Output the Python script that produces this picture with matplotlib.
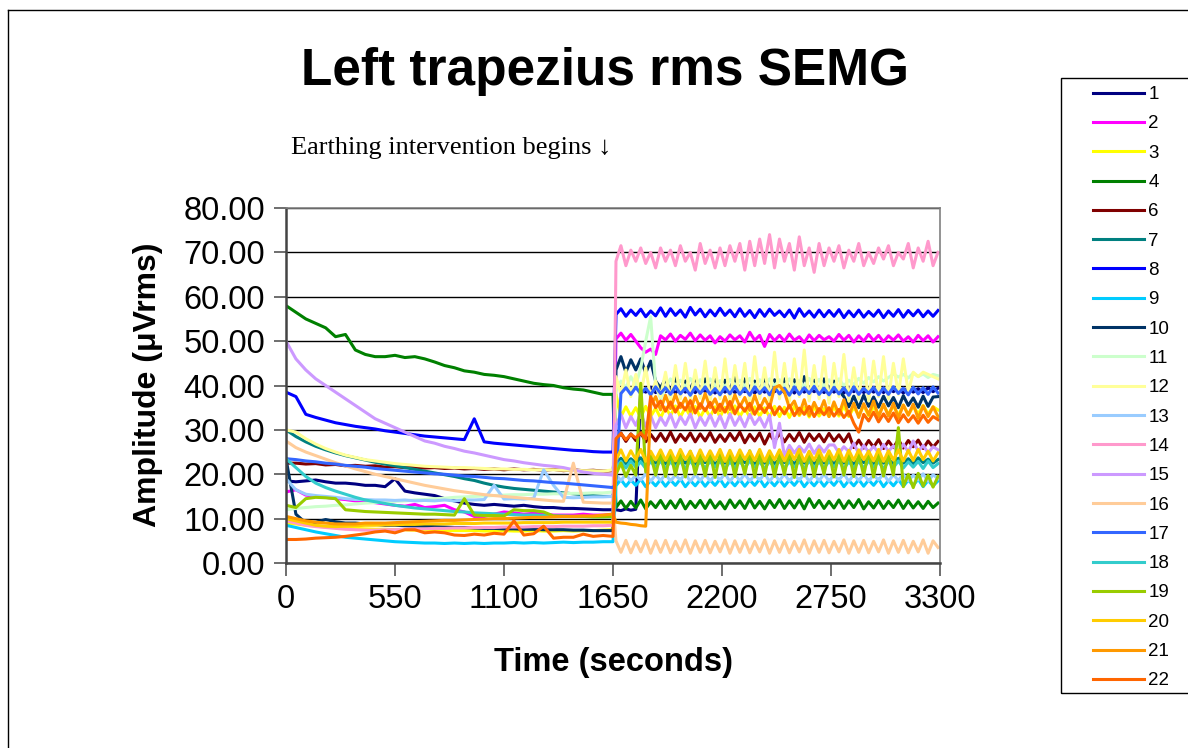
import numpy as np
import matplotlib
matplotlib.use('Agg')
import matplotlib.pyplot as plt
from matplotlib.lines import Line2D

plt.rcParams['font.family'] = ['Liberation Sans', 'DejaVu Sans']

# time axis (seconds): before and after the earthing intervention
T_PRE = np.arange(0, 1651, 50)
T_POST = np.arange(1665, 3300, 25)

labels = ['1', '2', '3', '4', '6', '7', '8', '9', '10', '11', '12',
          '13', '14', '15', '16', '17', '18', '19', '20', '21', '22']
colors = ['#000080', '#FF00FF', '#FFFF00', '#008000', '#800000', '#008080',
          '#0000FF', '#00CCFF', '#003366', '#CCFFCC', '#FFFF99', '#99CCFF',
          '#FF99CC', '#CC99FF', '#FFCC99', '#3366FF', '#33CCCC', '#99CC00',
          '#FFCC00', '#FF9900', '#FF6600']

s1_pre = [18.5, 18.3, 18.5, 18.7, 18.3, 18.0, 18.0, 17.8, 17.5, 17.5,
          17.2, 19.0, 16.2, 15.8, 15.5, 15.2, 14.5, 14.0, 13.5, 13.2,
          13.0, 13.2, 13.0, 12.8, 13.0, 12.7, 12.5, 12.5, 12.3, 12.3,
          12.2, 12.1, 12.0, 12.0]
s1_post = [12.0, 11.8, 12.2, 11.9, 12.1, 39.2, 38.5, 39.6, 38.4, 39.5, 38.6,
           39.4, 38.3, 39.6, 38.5, 39.3, 38.4, 39.7, 38.6, 39.4, 38.3, 39.5,
           38.5, 39.6, 38.4, 39.3, 38.6, 39.7, 38.3, 39.5, 38.5, 39.4, 38.6,
           39.6, 38.4, 39.5, 38.3, 39.7, 38.5, 39.4, 38.6, 39.3, 38.4, 39.6,
           38.5, 39.4, 38.3, 39.6, 38.6, 39.5, 38.4, 39.3, 38.5, 39.7, 38.4,
           39.5, 38.6, 39.4, 38.3, 39.6, 38.5, 39.3, 38.4, 39.5, 38.6, 39.4]

s2_pre = [16.0, 16.5, 15.3, 15.0, 14.8, 14.5, 14.3, 14.0, 13.8, 13.6,
          13.3, 13.0, 12.8, 13.2, 12.5, 12.7, 13.0, 12.0, 11.5, 10.5,
          10.5, 11.0, 11.5, 11.3, 11.0, 11.2, 11.0, 10.8, 10.8, 10.8,
          11.0, 10.8, 10.8, 11.0]
s2_post = [50.5, 51.8, 50.2, 51.5, 50.0, 48.5, 47.5, 48.2, 47.0, 51.2, 50.3,
           51.6, 50.0, 51.3, 50.4, 51.8, 50.1, 51.4, 50.2, 51.2, 49.6, 51.0,
           50.0, 51.4, 50.3, 51.2, 49.8, 52.0, 50.2, 51.3, 48.8, 51.5, 50.1,
           51.3, 50.0, 51.6, 50.2, 51.0, 49.7, 51.4, 50.1, 51.3, 50.3, 51.0,
           50.0, 51.5, 50.2, 51.3, 49.8, 51.2, 50.0, 51.5, 50.1, 51.3, 49.9,
           51.2, 50.2, 51.4, 50.0, 51.0, 49.8, 51.3, 50.1, 51.2, 49.8, 51.0]

s3_pre = [9.0, 8.8, 8.5, 8.3, 8.1, 8.0, 7.9, 7.8, 7.7, 7.6,
          7.6, 7.5, 7.5, 7.4, 7.4, 7.4, 7.3, 7.3, 7.3, 7.3,
          7.2, 7.2, 7.3, 7.2, 7.2, 7.3, 7.2, 7.2, 7.3, 7.2,
          7.3, 7.3, 7.4, 7.5]
s3_post = [38.0, 33.0, 35.2, 33.1, 35.0, 32.8, 35.3, 33.0, 34.9, 32.7, 35.1,
           33.2, 35.4, 32.9, 35.0, 33.1, 35.3, 32.8, 34.8, 33.0, 35.2, 32.9,
           35.1, 33.2, 35.4, 33.0, 34.9, 32.8, 35.2, 33.1, 35.0, 32.9, 35.3,
           33.0, 35.1, 32.8, 35.3, 33.2, 35.0, 32.9, 35.2, 33.1, 34.8, 33.0,
           35.2, 33.1, 35.4, 33.0, 35.1, 33.3, 35.5, 33.2, 35.3, 33.4, 35.6,
           33.5, 35.4, 33.3, 35.6, 33.4, 35.3, 33.6, 35.5, 33.5, 35.2, 34.5]

s4_pre = [58.0, 56.5, 55.0, 54.0, 53.0, 51.0, 51.5, 48.0, 47.0, 46.5,
          46.5, 46.8, 46.3, 46.5, 46.0, 45.3, 44.5, 44.0, 43.3, 43.0,
          42.5, 42.3, 42.0, 41.5, 41.0, 40.5, 40.2, 40.0, 39.5, 39.2,
          39.0, 38.5, 38.0, 38.0]
s4_post = [12.5, 14.0, 12.3, 13.9, 12.4, 14.2, 12.2, 13.8, 12.5, 14.1, 12.3,
           14.0, 12.4, 14.3, 12.2, 13.9, 12.5, 14.1, 12.3, 14.2, 12.4, 13.8,
           12.2, 14.2, 12.5, 14.0, 12.3, 14.4, 12.4, 13.9, 12.2, 14.1, 12.5,
           14.3, 12.3, 14.0, 12.4, 14.2, 12.2, 14.5, 12.5, 14.1, 12.3, 13.9,
           12.4, 14.2, 12.3, 14.0, 12.5, 14.3, 12.2, 13.8, 12.4, 14.1, 12.3,
           13.9, 12.5, 14.2, 12.3, 14.0, 12.4, 13.8, 12.3, 13.9, 12.5, 13.5]

s6_pre = [22.5, 22.5, 22.3, 22.4, 22.1, 22.2, 21.9, 22.0, 21.8, 21.9,
          21.6, 21.7, 21.5, 21.6, 21.4, 21.5, 21.3, 21.4, 21.2, 21.3,
          21.1, 21.2, 21.0, 21.2, 21.0, 21.1, 20.9, 21.1, 20.8, 21.0,
          20.8, 20.9, 20.7, 20.8]
s6_post = [27.5, 29.3, 27.4, 29.1, 27.6, 29.4, 27.3, 29.0, 27.5, 29.2, 27.4,
           29.5, 27.2, 29.0, 27.6, 29.3, 27.3, 29.1, 27.5, 29.4, 27.2, 28.9,
           27.4, 29.2, 27.6, 29.5, 27.1, 29.0, 27.5, 29.3, 26.8, 29.1, 27.4,
           29.2, 27.3, 29.0, 27.5, 29.4, 27.2, 29.1, 27.6, 29.0, 27.3, 29.2,
           27.5, 28.9, 27.3, 29.1, 26.0, 27.7, 25.9, 27.6, 26.1, 27.8, 25.8,
           27.5, 26.0, 27.8, 25.9, 27.6, 26.2, 27.7, 25.8, 27.5, 26.1, 27.4]

s7_pre = [30.0, 28.5, 27.3, 26.3, 25.5, 24.8, 24.2, 23.7, 23.2, 22.7,
          22.3, 21.9, 21.5, 21.1, 20.7, 20.3, 19.9, 19.5, 19.0, 18.6,
          18.0, 17.5, 17.1, 16.8, 16.6, 16.4, 16.2, 16.0, 15.8, 15.6,
          15.4, 15.2, 15.0, 15.0]
s7_post = [22.5, 23.6, 22.4, 23.5, 22.6, 23.7, 22.3, 23.4, 22.5, 23.6, 22.4,
           23.5, 22.3, 23.7, 22.5, 23.4, 22.4, 23.6, 22.6, 23.5, 22.3, 23.4,
           22.5, 23.6, 22.4, 23.7, 22.6, 23.4, 22.3, 23.5, 22.5, 23.6, 22.4,
           23.4, 22.6, 23.5, 22.3, 23.7, 22.5, 23.4, 22.4, 23.6, 22.5, 23.5,
           22.4, 23.6, 22.5, 23.4, 22.3, 23.7, 22.6, 23.5, 22.4, 23.6, 22.5,
           23.4, 22.3, 23.6, 22.5, 23.5, 22.4, 23.7, 22.6, 23.4, 22.5, 23.3]

s8_pre = [38.5, 37.5, 33.5, 32.8, 32.2, 31.6, 31.2, 30.8, 30.5, 30.2,
          29.8, 29.5, 29.2, 28.9, 28.6, 28.4, 28.2, 28.0, 27.8, 32.5,
          27.3, 27.0, 26.8, 26.6, 26.4, 26.2, 26.0, 25.8, 25.6, 25.4,
          25.3, 25.1, 25.0, 25.0]
s8_post = [56.0, 57.3, 55.6, 57.0, 55.8, 57.2, 55.5, 56.8, 55.7, 57.5, 55.6,
           57.3, 55.8, 57.0, 55.4, 57.6, 55.9, 57.2, 55.5, 57.0, 55.7, 57.4,
           55.8, 57.0, 55.5, 57.3, 55.6, 56.9, 55.3, 57.1, 55.6, 57.2, 55.8,
           56.8, 55.5, 57.0, 55.2, 57.3, 55.6, 56.8, 55.4, 57.0, 55.5, 56.9,
           55.6, 57.1, 55.3, 56.8, 55.5, 57.0, 55.4, 56.7, 55.6, 57.0, 55.3,
           56.8, 55.6, 57.1, 55.4, 56.9, 55.7, 57.0, 55.5, 56.8, 55.6, 56.9]

s9_pre = [8.5, 8.0, 7.5, 7.0, 6.6, 6.2, 5.8, 5.6, 5.4, 5.2,
          5.0, 4.8, 4.7, 4.6, 4.5, 4.5, 4.4, 4.5, 4.4, 4.5,
          4.4, 4.5, 4.5, 4.6, 4.5, 4.6, 4.5, 4.6, 4.7, 4.6,
          4.7, 4.7, 4.8, 4.8]
s9_post = [17.4, 18.8, 17.3, 18.7, 17.5, 18.9, 17.2, 18.6, 17.4, 18.8, 17.3,
           18.7, 17.5, 18.9, 17.2, 18.6, 17.4, 18.8, 17.3, 18.7, 17.5, 18.9,
           17.2, 18.6, 17.4, 18.8, 17.3, 18.7, 17.5, 18.9, 17.2, 18.6, 17.4,
           18.8, 17.3, 18.7, 17.5, 18.9, 17.2, 18.6, 17.4, 18.8, 17.3, 18.7,
           17.5, 18.9, 17.2, 18.6, 17.4, 18.8, 17.3, 18.7, 17.5, 18.9, 17.2,
           18.6, 17.4, 18.8, 17.3, 18.7, 17.5, 18.9, 17.2, 18.6, 17.4, 18.5]

s10_pre = [23.5, 11.0, 9.0, 9.2, 9.8, 9.3, 9.0, 9.0, 8.8, 8.7,
           8.5, 8.5, 8.4, 8.3, 8.3, 8.2, 8.1, 8.0, 8.0, 7.9,
           7.8, 7.8, 7.7, 7.7, 7.6, 7.6, 7.5, 7.5, 7.5, 7.4,
           7.4, 7.3, 7.3, 7.3]
s10_post = [43.5, 46.5, 43.0, 45.8, 43.5, 46.0, 42.8, 45.5, 41.0, 39.5, 41.5,
            38.5, 41.8, 38.8, 41.0, 39.0, 42.0, 38.5, 41.5, 39.2, 41.8, 38.7,
            41.2, 39.0, 42.0, 38.8, 41.5, 39.3, 41.0, 38.6, 41.8, 39.0, 41.3,
            38.8, 41.5, 39.2, 41.3, 38.7, 42.0, 39.0, 41.2, 38.6, 41.5, 39.1,
            41.0, 38.8, 37.5, 35.2, 37.6, 35.0, 37.8, 35.3, 37.4, 35.1, 37.6,
            35.4, 37.3, 35.0, 37.7, 35.5, 37.2, 35.1, 37.6, 35.3, 37.4, 37.5]

s11_pre = [12.0, 12.3, 12.5, 12.7, 12.8, 13.0, 13.1, 13.3, 13.5, 13.6,
           13.8, 13.9, 14.0, 14.2, 14.3, 14.5, 14.6, 14.8, 14.9, 15.0,
           15.1, 15.2, 15.3, 15.4, 15.4, 15.5, 15.5, 15.6, 15.6, 15.7,
           15.7, 15.8, 15.8, 16.0]
s11_post = [39.0, 41.0, 39.5, 42.0, 40.0, 44.0, 50.0, 55.5, 40.0, 37.0, 39.5,
            41.5, 39.8, 41.2, 39.6, 41.6, 39.9, 41.3, 39.7, 41.5, 39.8, 41.1,
            39.6, 41.4, 39.9, 41.2, 39.7, 41.6, 39.8, 41.3, 39.6, 41.5, 39.9,
            41.3, 39.7, 41.5, 39.8, 41.2, 39.6, 41.6, 39.9, 41.4, 39.7, 41.3,
            39.8, 41.5, 39.9, 41.2, 40.2, 41.6, 40.5, 41.8, 40.8, 42.0, 41.0,
            41.8, 42.6, 41.9, 42.5, 41.7, 42.8, 42.0, 42.6, 41.8, 42.5, 42.2]

s12_pre = [30.0, 29.5, 28.0, 26.8, 25.8, 25.0, 24.3, 23.8, 23.3, 23.0,
           22.7, 22.4, 22.2, 22.0, 21.8, 21.7, 21.6, 21.5, 21.5, 21.4,
           21.3, 21.2, 21.2, 21.1, 21.1, 21.0, 21.0, 21.0, 20.9, 20.9,
           20.8, 20.8, 20.7, 21.0]
s12_post = [42.0, 38.0, 43.5, 37.5, 42.5, 38.0, 44.0, 37.0, 41.0, 37.5, 43.0,
            36.5, 44.5, 37.0, 45.0, 36.8, 43.5, 37.2, 45.5, 36.5, 44.0, 37.0,
            46.0, 36.5, 44.5, 37.5, 45.0, 36.0, 46.5, 37.0, 44.0, 36.5, 47.5,
            37.0, 45.0, 36.5, 46.0, 37.5, 48.0, 36.5, 44.5, 37.0, 46.5, 36.0,
            45.0, 37.5, 47.0, 36.5, 44.0, 37.0, 46.0, 36.5, 45.5, 37.5, 46.5,
            37.0, 45.0, 38.0, 46.0, 38.5, 43.0, 42.0, 43.0, 42.5, 42.0, 41.5]

s13_pre = [19.0, 16.5, 15.5, 15.2, 15.0, 14.8, 14.5, 14.3, 14.3, 14.2,
           14.2, 14.1, 14.2, 14.0, 14.1, 14.0, 14.2, 14.0, 14.2, 14.2,
           14.3, 17.5, 14.4, 14.5, 14.4, 14.6, 21.0, 17.5, 14.8, 14.7,
           14.8, 14.9, 14.9, 15.0]
s13_post = [19.9, 18.6, 20.0, 18.5, 19.8, 18.7, 20.1, 18.4, 19.9, 18.6, 20.0,
            18.5, 19.8, 18.7, 20.1, 18.4, 19.9, 18.6, 20.0, 18.5, 19.8, 18.7,
            20.1, 18.4, 19.9, 18.6, 20.0, 18.5, 19.8, 18.7, 20.1, 18.4, 19.9,
            18.6, 20.0, 18.5, 19.8, 18.7, 20.1, 18.4, 19.9, 18.6, 20.0, 18.5,
            19.8, 18.7, 20.1, 18.4, 19.9, 18.6, 20.0, 18.5, 19.8, 18.7, 20.1,
            18.4, 19.9, 18.6, 20.0, 18.5, 19.8, 18.7, 20.1, 18.4, 19.9, 19.0]

s14_pre = [9.5, 9.0, 8.5, 8.2, 8.0, 7.8, 7.6, 7.5, 7.4, 7.4,
           7.5, 7.5, 7.6, 7.7, 7.7, 7.8, 7.8, 7.9, 7.9, 8.0,
           8.0, 8.0, 8.1, 8.1, 8.1, 8.2, 8.2, 8.2, 8.3, 8.3,
           8.3, 8.4, 8.4, 8.5]
s14_post = [68.0, 71.5, 67.0, 70.5, 68.0, 71.0, 67.5, 70.0, 66.5, 71.0, 68.0,
            70.5, 67.0, 71.5, 68.0, 70.0, 66.0, 72.0, 67.5, 70.5, 66.5, 71.0,
            67.0, 71.5, 68.0, 72.0, 66.0, 72.5, 67.0, 73.0, 67.5, 74.0, 66.5,
            73.0, 68.0, 72.0, 66.0, 73.5, 67.0, 71.0, 65.5, 72.0, 67.0, 71.0,
            68.0, 71.5, 66.5, 70.5, 68.0, 72.0, 67.0, 70.0, 67.5, 71.0, 68.5,
            71.5, 67.0, 70.0, 68.5, 72.0, 66.5, 71.0, 68.0, 72.5, 67.0, 70.0]

s15_pre = [50.0, 46.0, 43.5, 41.5, 40.0, 38.5, 37.0, 35.5, 34.0, 32.5,
           31.5, 30.5, 29.5, 28.5, 27.5, 27.0, 26.3, 25.8, 25.2, 24.8,
           24.3, 23.8, 23.3, 23.0, 22.6, 22.3, 22.0, 21.8, 21.5, 21.0,
           20.5, 20.2, 20.0, 19.8]
s15_post = [31.0, 33.5, 30.5, 33.0, 31.0, 33.8, 30.8, 33.2, 30.5, 32.8, 31.0,
            33.5, 30.6, 33.0, 31.2, 33.6, 30.5, 32.9, 31.0, 33.4, 30.8, 33.2,
            30.5, 33.6, 31.0, 33.0, 30.7, 33.5, 31.2, 32.8, 30.6, 33.3, 26.0,
            31.5, 24.0, 26.5, 24.8, 26.3, 25.0, 26.8, 24.7, 26.4, 25.0, 26.6,
            26.6, 24.8, 26.2, 25.1, 27.0, 24.6, 26.5, 25.0, 26.3, 24.8, 26.7,
            25.2, 26.4, 24.9, 26.8, 25.0, 27.5, 25.2, 26.5, 24.8, 26.2, 25.5]

s16_pre = [27.5, 26.0, 25.0, 24.2, 23.4, 22.6, 21.9, 21.2, 20.6, 20.0,
           19.5, 19.0, 18.5, 18.0, 17.5, 17.1, 16.7, 16.3, 16.0, 15.7,
           15.4, 15.2, 15.0, 14.8, 14.6, 14.4, 14.2, 14.0, 13.9, 22.5,
           13.7, 13.6, 13.5, 13.5]
s16_post = [5.0, 2.4, 5.1, 2.3, 4.9, 2.5, 5.2, 2.2, 5.0, 2.4, 5.1,
            2.3, 4.9, 2.5, 5.2, 2.2, 5.0, 2.4, 5.1, 2.3, 4.9, 2.5,
            5.2, 2.2, 5.0, 2.4, 5.1, 2.3, 4.9, 2.5, 5.2, 2.2, 5.0,
            2.4, 5.1, 2.3, 4.9, 2.5, 5.2, 2.2, 5.0, 2.4, 5.1, 2.3,
            4.9, 2.5, 5.2, 2.2, 5.0, 2.4, 5.1, 2.3, 4.9, 2.5, 5.2,
            2.2, 5.0, 2.4, 5.1, 2.3, 4.9, 2.5, 5.2, 2.2, 5.0, 3.5]

s17_pre = [23.5, 23.3, 23.0, 22.8, 22.5, 22.3, 22.0, 21.8, 21.6, 21.3,
           21.1, 20.9, 20.7, 20.5, 20.3, 20.1, 20.0, 19.8, 19.6, 19.5,
           19.3, 19.1, 19.0, 18.8, 18.6, 18.5, 18.3, 18.1, 18.0, 17.8,
           17.6, 17.4, 17.2, 17.0]
s17_post = [18.0, 38.2, 39.5, 38.0, 39.6, 38.1, 39.4, 37.9, 39.7, 38.2, 39.5,
            38.0, 39.8, 38.1, 39.4, 37.8, 39.6, 38.2, 39.7, 38.0, 39.3, 37.9,
            39.6, 38.1, 39.8, 38.0, 39.4, 37.8, 39.7, 38.2, 39.5, 37.9, 39.6,
            38.1, 39.4, 37.8, 39.7, 38.0, 39.5, 38.2, 39.8, 38.0, 39.4, 37.9,
            39.6, 38.1, 39.5, 37.8, 39.7, 38.0, 39.4, 38.2, 39.6, 37.9, 39.5,
            38.0, 39.7, 38.2, 39.4, 37.9, 39.6, 38.1, 39.5, 38.0, 39.7, 38.3]

s18_pre = [23.5, 21.5, 19.5, 18.0, 17.0, 16.2, 15.5, 14.8, 14.2, 13.8,
           13.4, 13.0, 12.7, 12.4, 12.2, 12.0, 11.8, 11.6, 11.5, 11.3,
           11.2, 11.1, 11.0, 10.9, 10.8, 10.8, 10.7, 10.6, 10.6, 10.5,
           10.5, 10.4, 10.4, 10.4]
s18_post = [21.5, 22.9, 21.4, 23.0, 21.6, 22.8, 21.3, 22.9, 21.5, 23.0, 21.4,
            22.8, 21.6, 22.9, 21.3, 23.0, 21.5, 22.8, 21.4, 22.9, 21.6, 23.0,
            21.3, 22.8, 21.5, 22.9, 21.4, 23.0, 21.6, 22.8, 21.3, 22.9, 21.5,
            23.0, 21.4, 22.8, 21.6, 22.9, 21.3, 23.0, 21.5, 22.8, 21.4, 22.9,
            21.6, 23.0, 21.3, 22.8, 21.5, 22.9, 21.4, 23.0, 21.6, 22.8, 21.3,
            22.9, 21.5, 23.0, 21.4, 22.8, 21.6, 22.9, 21.3, 23.0, 21.5, 22.4]

s19_pre = [13.0, 12.5, 14.5, 14.8, 14.7, 14.5, 12.0, 11.8, 11.6, 11.5,
           11.4, 11.3, 11.2, 11.1, 11.0, 11.0, 10.9, 10.8, 14.5, 10.8,
           10.7, 10.7, 10.6, 12.0, 11.8, 11.8, 11.5, 10.6, 10.5, 10.5,
           10.5, 10.4, 10.4, 10.5]
s19_post = [20.0, 22.5, 19.5, 22.0, 19.8, 40.5, 20.5, 24.5, 19.8, 24.8, 19.5,
            25.0, 19.8, 24.6, 19.4, 25.2, 20.0, 24.4, 19.6, 25.0, 19.3, 24.7,
            19.8, 25.1, 19.5, 24.5, 20.0, 25.3, 19.4, 24.8, 19.7, 25.0, 19.5,
            24.6, 19.9, 25.2, 19.3, 24.8, 19.6, 25.0, 19.5, 24.4, 20.0, 25.1,
            19.4, 24.7, 19.8, 25.0, 19.5, 24.6, 19.7, 25.2, 19.4, 24.8, 19.6,
            24.5, 19.8, 30.5, 17.2, 20.0, 17.0, 20.2, 17.3, 19.8, 17.1, 19.5]

s20_pre = [10.0, 9.5, 9.0, 8.5, 8.3, 8.2, 8.3, 8.4, 8.5, 8.5,
           8.6, 8.6, 8.7, 8.7, 8.8, 8.8, 8.8, 8.9, 8.9, 8.9,
           9.0, 9.0, 9.0, 9.0, 9.1, 9.1, 9.1, 9.1, 9.2, 9.2,
           9.2, 9.2, 9.2, 9.2]
s20_post = [23.2, 25.5, 23.0, 25.3, 23.3, 25.6, 22.9, 25.2, 23.2, 25.5, 23.1,
            25.4, 23.0, 25.6, 23.3, 25.2, 22.9, 25.5, 23.1, 25.3, 23.2, 25.6,
            22.9, 25.4, 23.0, 25.5, 23.3, 25.2, 23.1, 25.6, 22.9, 25.3, 23.2,
            25.5, 23.0, 25.4, 23.3, 25.6, 22.9, 25.2, 23.1, 25.5, 23.0, 25.3,
            23.2, 25.6, 22.9, 25.4, 23.1, 25.5, 23.3, 25.2, 23.0, 25.6, 22.9,
            25.3, 23.2, 25.5, 23.0, 25.4, 23.1, 25.6, 23.3, 25.2, 23.0, 24.8]

s21_pre = [10.5, 10.0, 9.5, 9.2, 9.0, 8.8, 8.8, 8.8, 9.0, 9.0,
           9.0, 9.1, 9.2, 9.3, 9.4, 9.5, 9.6, 9.6, 9.7, 9.8,
           9.9, 10.0, 10.0, 10.1, 10.2, 10.3, 10.3, 10.4, 10.5, 10.5,
           10.6, 10.6, 10.8, 11.0]
s21_post = [9.2, 9.0, 8.9, 8.7, 8.6, 8.4, 8.3, 35.5, 37.5, 34.5, 37.8,
            34.8, 38.0, 35.0, 37.2, 34.2, 37.6, 34.8, 38.2, 35.0, 37.0, 34.3,
            37.5, 34.6, 37.9, 35.2, 37.3, 34.4, 37.8, 34.7, 37.1, 35.0, 39.5,
            40.0, 38.5, 35.0, 36.5, 33.5, 36.8, 33.2, 36.2, 33.8, 36.6, 33.0,
            36.3, 33.5, 36.8, 33.2, 36.0, 32.8, 35.9, 33.4, 36.5, 32.9, 35.8,
            33.1, 36.0, 32.7, 35.6, 33.3, 35.8, 32.6, 35.4, 33.0, 35.2, 33.0]

s22_pre = [5.3, 5.3, 5.4, 5.6, 5.7, 5.8, 6.0, 6.3, 6.6, 7.0,
           7.2, 6.8, 7.5, 7.5, 6.8, 7.0, 6.8, 6.3, 6.2, 6.5,
           6.3, 6.7, 6.5, 9.5, 6.3, 6.6, 8.3, 5.6, 5.8, 5.8,
           6.5, 6.0, 6.2, 6.0]
s22_post = [28.0, 29.2, 27.8, 29.0, 28.2, 29.3, 28.0, 37.5, 35.0, 36.5, 34.2,
            36.3, 34.0, 36.0, 34.5, 36.6, 33.8, 35.9, 34.3, 36.2, 33.9, 35.8,
            34.0, 36.4, 33.6, 35.7, 34.2, 36.0, 33.5, 35.5, 33.9, 35.8, 33.4,
            35.2, 33.6, 35.5, 33.2, 34.9, 33.5, 35.3, 33.0, 34.8, 33.4, 35.0,
            33.1, 34.6, 32.8, 34.2, 31.5, 29.5, 33.5, 32.0, 34.0, 31.8, 33.6,
            31.9, 33.8, 31.6, 33.4, 31.8, 33.2, 31.5, 33.3, 31.7, 33.0, 32.3]

pre_values = [s1_pre, s2_pre, s3_pre, s4_pre, s6_pre, s7_pre, s8_pre, s9_pre,
              s10_pre, s11_pre, s12_pre, s13_pre, s14_pre, s15_pre, s16_pre,
              s17_pre, s18_pre, s19_pre, s20_pre, s21_pre, s22_pre]
post_values = [s1_post, s2_post, s3_post, s4_post, s6_post, s7_post, s8_post,
               s9_post, s10_post, s11_post, s12_post, s13_post, s14_post,
               s15_post, s16_post, s17_post, s18_post, s19_post, s20_post,
               s21_post, s22_post]


def main():
    fig = plt.figure(figsize=(11.88, 7.48), dpi=100)
    ax = fig.add_axes([286 / 1188, 1 - 563 / 748, 654 / 1188, 355 / 748])

    t = np.concatenate([T_PRE, T_POST])
    handles = []
    for lab, col, pre, post in zip(labels, colors, pre_values, post_values):
        y = np.concatenate([pre, post])
        h, = ax.plot(t, y, color=col, lw=2.2, label=lab, solid_joinstyle='round')
        handles.append(h)

    ax.set_xlim(0, 3300)
    ax.set_ylim(0, 80)
    ax.set_xticks(np.arange(0, 3301, 550))
    ax.set_yticks(np.arange(0, 81, 10))
    ax.set_yticklabels(['%.2f' % v for v in np.arange(0, 81, 10)])
    ax.yaxis.grid(True, color='black', lw=1.0)
    ax.set_axisbelow(True)
    ax.tick_params(axis='both', labelsize=23.5, direction='out', length=9,
                   width=1.2, color='#555555', pad=6)
    for side in ['top', 'right']:
        ax.spines[side].set_color('#808080')
        ax.spines[side].set_linewidth(1.2)
    for side in ['left', 'bottom']:
        ax.spines[side].set_color('#444444')
        ax.spines[side].set_linewidth(1.8)

    fig.text(605 / 1188, 1 - 72 / 748, 'Left trapezius rms SEMG',
             ha='center', va='center', fontsize=37, weight='bold')
    fig.text(291 / 1188, 1 - 148 / 748, 'Earthing intervention begins \u2193',
             ha='left', va='center', fontsize=19,
             family=['Liberation Serif', 'DejaVu Serif'])
    fig.text(613 / 1188, 1 - 662 / 748, 'Time (seconds)',
             ha='center', va='center', fontsize=23.5, weight='bold')
    fig.text(148 / 1188, 1 - 385 / 748, 'Amplitude (\u03bcVrms)',
             ha='center', va='center', fontsize=23, weight='bold', rotation=90)

    # legend box on the right
    fig.add_artist(plt.Rectangle((1061 / 1188, 1 - 693 / 748), 130 / 1188, 615 / 748,
                                 transform=fig.transFigure, fill=False,
                                 edgecolor='black', lw=1.0))
    fig.legend(handles, labels, loc='upper left',
               bbox_to_anchor=(1093 / 1188, 1 - 86 / 748),
               frameon=False, fontsize=13.5, handlelength=2.7,
               handletextpad=0.25, labelspacing=0.65, borderpad=0,
               borderaxespad=0)

    # outer chart border
    fig.add_artist(Line2D([8 / 1188, 8 / 1188], [0, 1 - 10 / 748],
                          transform=fig.transFigure, color='black', lw=1.0))
    fig.add_artist(Line2D([8 / 1188, 1], [1 - 10 / 748, 1 - 10 / 748],
                          transform=fig.transFigure, color='black', lw=1.0))

    fig.savefig('out.png', dpi=100)


if __name__ == '__main__':
    main()
